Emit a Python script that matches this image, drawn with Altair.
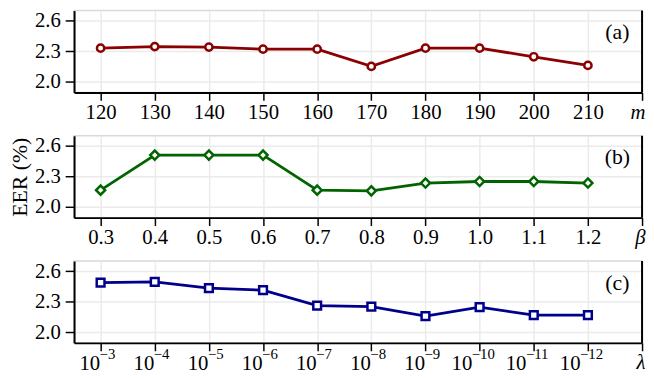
import json
import altair as alt
import pandas as pd

# ---- data ----
m_labels = ["120", "130", "140", "150", "160", "170", "180", "190", "200", "210"]
eer_m = [2.33, 2.345, 2.34, 2.32, 2.32, 2.15, 2.33, 2.33, 2.245, 2.16]

beta_labels = ["0.3", "0.4", "0.5", "0.6", "0.7", "0.8", "0.9", "1.0", "1.1", "1.2"]
eer_beta = [2.165, 2.51, 2.51, 2.51, 2.165, 2.158, 2.235, 2.25, 2.25, 2.235]

lambda_base = ["10"] * 10
lambda_exp = ["−3", "−4", "−5", "−6", "−7", "−8", "−9", "−10", "−11", "−12"]
eer_lambda = [2.488, 2.494, 2.433, 2.413, 2.261, 2.252, 2.158, 2.246, 2.168, 2.168]

y_ticks = [2.0, 2.3, 2.6]

W, H = 576, 83
FONT = "Liberation Serif"
XFS = 21


def xscale(n):
    return alt.Scale(domain=[-0.49, n], nice=False, zero=False)


def panel(labels, values, symbol, color, shape, size, tag, ytitle=None, exps=None):
    df = pd.DataFrame({"i": list(range(len(values))), "eer": values})
    tick_labels = labels + [symbol]
    n = len(tick_labels) - 1
    expr = json.dumps(tick_labels, ensure_ascii=False) + "[datum.value]"
    last = f"datum.value == {n}"
    axis_kw = dict(
        values=list(range(n + 1)),
        labelExpr=expr,
        labelFontStyle={"condition": {"test": last, "value": "italic"}, "value": "normal"},
        title=None,
        grid=True,
        tickSize=8,
    )
    if exps is None:
        axis_kw.update(labelFlush=True, labelFlushOffset=3, labelPadding=1)
    else:
        axis_kw.update(
            labelAlign="right",
            labelOffset={"condition": [{"test": last, "value": 3},
                                       {"test": "datum.value >= 7", "value": -8}],
                         "value": -1},
            labelPadding={"condition": {"test": last, "value": 1}, "value": 2},
        )
    x = alt.X("i:Q", scale=xscale(n), axis=alt.Axis(**axis_kw))
    yaxis = dict(values=y_ticks, format=".1f", grid=True, tickSize=9, labelPadding=5,
                 labelFontSize=21)
    if ytitle:
        yaxis.update(title=ytitle, titlePadding=3)
    else:
        yaxis.update(title=None)
    y = alt.Y("eer:Q", scale=alt.Scale(domain=[1.894, 2.7], nice=False, zero=False),
              axis=alt.Axis(**yaxis))
    base = alt.Chart(df)
    line = base.mark_line(color=color, strokeWidth=2.8).encode(x=x, y=y)
    pts = base.mark_point(shape=shape, filled=True, fill="white", stroke=color,
                          strokeWidth=2.5, size=size, opacity=1).encode(x=x, y=y)
    one = alt.Chart(pd.DataFrame({"t": [tag]}))
    rule = one.mark_rule(color="black", strokeWidth=2).encode(
        x=alt.value(W), y=alt.value(0), y2=alt.value(H))
    txt = one.mark_text(font=FONT, fontSize=22, color="black", align="center",
                        baseline="middle").encode(text="t:N", x=alt.value(551), y=alt.value(22))
    layers = [line, pts, rule, txt]
    if exps is not None:
        edf = pd.DataFrame({"i": list(range(len(exps))), "e": exps})
        for test, dx in (("datum.i < 7", -1), ("datum.i >= 7", -8)):
            layers.append(
                alt.Chart(edf).transform_filter(test)
                .mark_text(font=FONT, fontSize=15, color="black", align="left",
                           baseline="top", dx=dx)
                .encode(x=alt.X("i:Q", scale=xscale(n)), text="e:N", y=alt.value(H + 4.7))
            )
    return alt.layer(*layers).properties(width=W, height=H)


pa = panel(m_labels, eer_m, "m", "#8b0000", "circle", 55, "(a)")
pb = panel(beta_labels, eer_beta, "β", "#006400", "diamond", 85, "(b)", ytitle="EER (%)")
pc = panel(lambda_base, eer_lambda, "λ", "#00008b", "square", 62, "(c)", exps=lambda_exp)

chart = (
    alt.vconcat(pa, pb, pc, spacing=11)
    .properties(padding={"left": 0, "top": -2, "right": 0, "bottom": 0})
    .configure_axis(
        domainColor="black", domainWidth=2, tickColor="black", tickWidth=1.5,
        labelFont=FONT, labelFontSize=XFS, labelColor="black",
        gridColor="#ebebeb", gridWidth=1.5,
        titleFont=FONT, titleFontSize=22, titleFontWeight="normal", titleColor="black",
    )
    .configure_view(stroke="#d9d9d9", strokeWidth=1.5)
)

chart.save("out.html", embed_options={"renderer": "svg", "actions": False})
